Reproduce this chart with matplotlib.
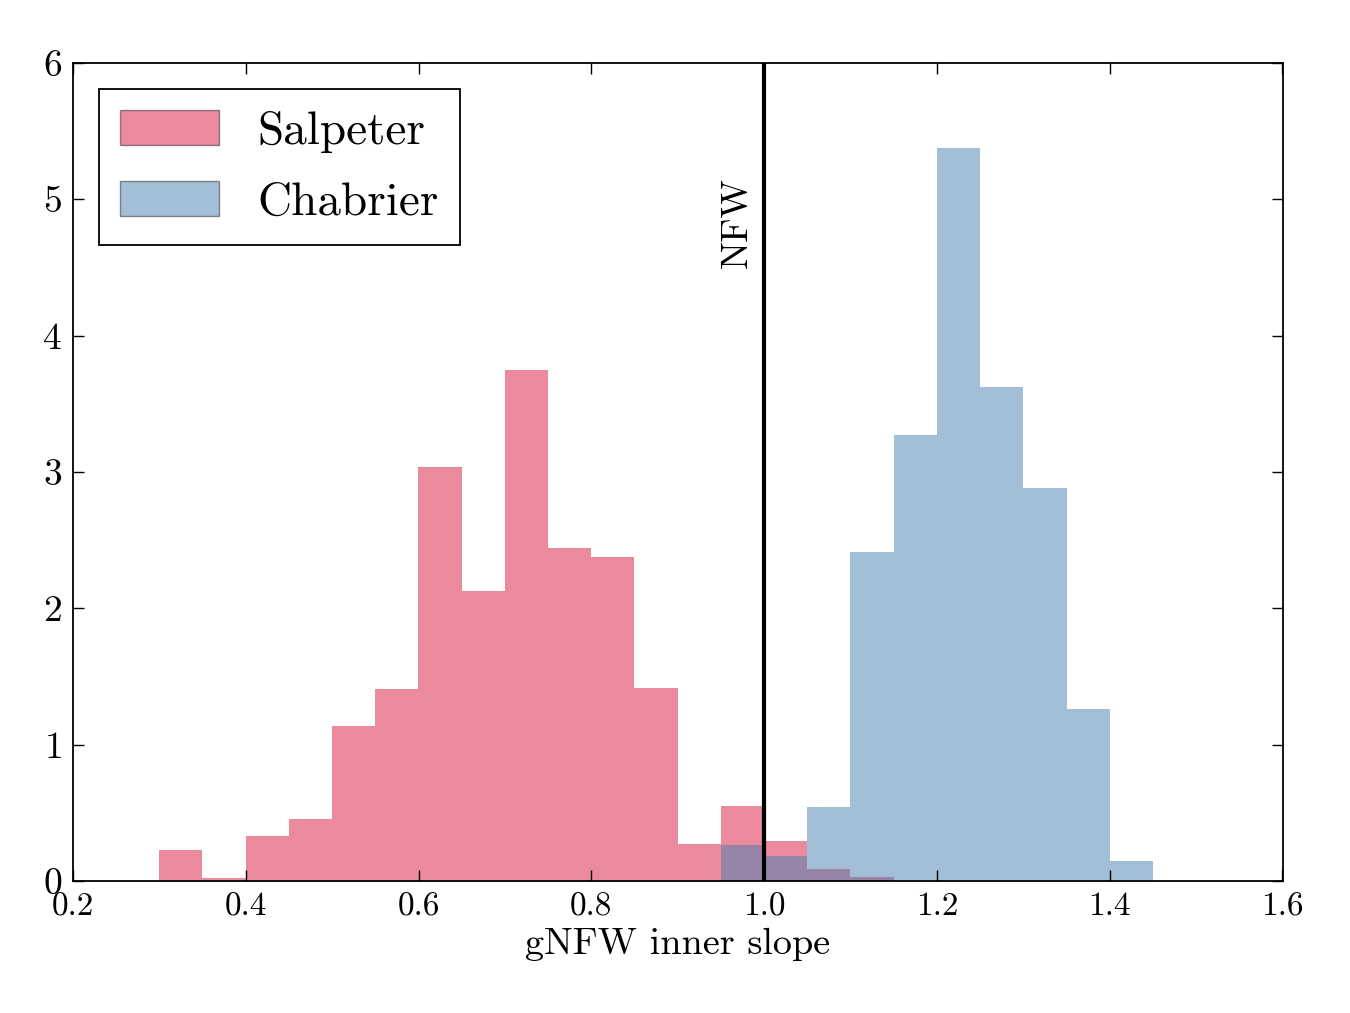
import numpy as np
import matplotlib
matplotlib.use("Agg")
import matplotlib.pyplot as plt
from matplotlib.patches import Patch

plt.rcParams['font.family'] = 'cmr10'
plt.rcParams['mathtext.fontset'] = 'cm'
plt.rcParams['axes.unicode_minus'] = False
plt.rcParams['axes.formatter.use_mathtext'] = True

# histogram bins, width 0.05 (left edges) and heights
sal_left = [0.30, 0.35, 0.40, 0.45, 0.50, 0.55, 0.60, 0.65, 0.70, 0.75,
            0.80, 0.85, 0.90, 0.95, 1.00, 1.05, 1.10]
sal_height = [0.227, 0.024, 0.330, 0.455, 1.137, 1.408, 3.037, 2.127, 3.748, 2.443,
              2.377, 1.416, 0.269, 0.553, 0.293, 0.088, 0.029]

cha_left = [0.95, 1.00, 1.05, 1.10, 1.15, 1.20, 1.25, 1.30, 1.35, 1.40]
cha_height = [0.261, 0.183, 0.545, 2.413, 3.270, 5.377, 3.620, 2.883, 1.262, 0.144]

bin_width = 0.05
sal_color = '#D9153D'
cha_color = '#4781B1'

fig = plt.figure(figsize=(13.5, 10.13), dpi=100)
ax = fig.add_axes([0.054, 0.1303, 0.896, 0.8075])

# stepfilled histograms (one polygon each, no seams between bins)
sal_edges = np.append(sal_left, sal_left[-1] + bin_width)
cha_edges = np.append(cha_left, cha_left[-1] + bin_width)
ax.stairs(sal_height, sal_edges, fill=True, color=sal_color, alpha=0.5, linewidth=0)
ax.stairs(cha_height, cha_edges, fill=True, color=cha_color, alpha=0.5, linewidth=0)

# NFW line
ax.axvline(1.0, color='black', linewidth=3)
ax.text(0.969, 4.5, 'NFW', rotation=90, ha='center', va='bottom', fontsize=27)

ax.set_xlim(0.2, 1.6)
ax.set_ylim(0, 6)
ax.set_xticks(np.arange(0.2, 1.61, 0.2))
ax.set_xticklabels(['0.2', '0.4', '0.6', '0.8', '1.0', '1.2', '1.4', '1.6'])
ax.set_yticks(range(0, 7))
ax.tick_params(direction='in', top=True, right=True, length=8, width=1)
ax.tick_params(axis='x', labelsize=24, pad=8)
ax.tick_params(axis='y', labelsize=27, pad=8)
for s in ax.spines.values():
    s.set_linewidth(1.3)

ax.set_xlabel('gNFW inner slope', fontsize=27.5, labelpad=5)

handles = [Patch(facecolor=sal_color, edgecolor='#222222', alpha=0.5, label='Salpeter'),
           Patch(facecolor=cha_color, edgecolor='#222222', alpha=0.5, label='Chabrier')]
leg = ax.legend(handles=handles, loc='upper left', fontsize=34, fancybox=False,
                framealpha=1, edgecolor='black', handlelength=2.1, handleheight=0.75,
                borderpad=0.45, handletextpad=0.8, labelspacing=0.6,
                borderaxespad=0.55)
leg.get_frame().set_linewidth(1.3)

fig.savefig('out.png', dpi=100)
